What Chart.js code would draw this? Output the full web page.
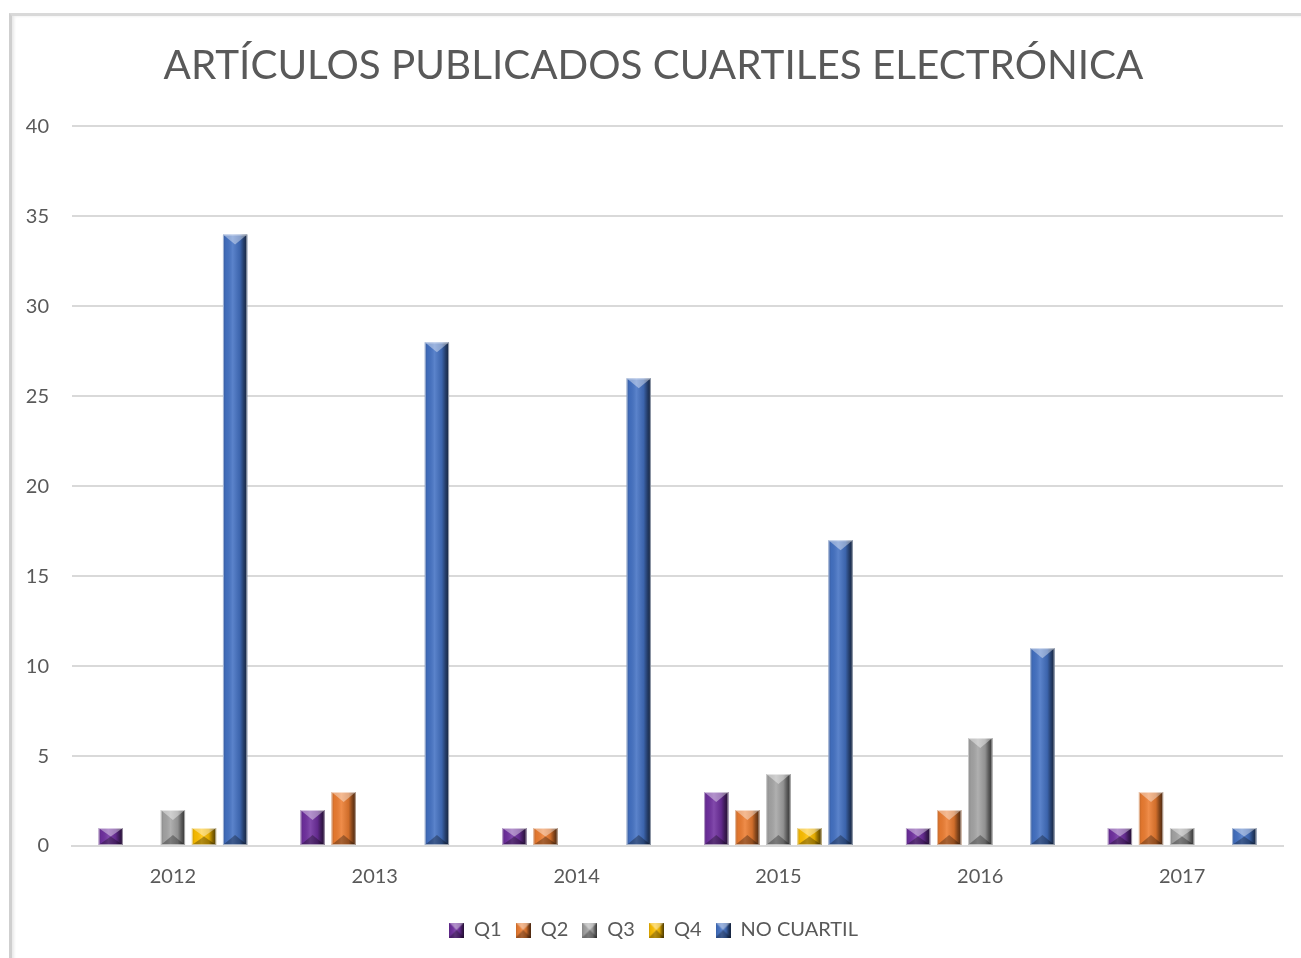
<!DOCTYPE html>
<html>
<head>
<meta charset="utf-8">
<script src="https://cdn.jsdelivr.net/npm/chart.js@4.4.1/dist/chart.umd.min.js"></script>
<style>
  body { margin: 0; background: #fff; }
  #marco {
    position: absolute; left: 9px; top: 13px; width: 1291px; height: 950px;
    border-top: 3px solid #d9d9d9; border-left: 3px solid #cfcfcf;
    border-right: 1px solid #e6e6e6;
    box-shadow: inset 2px 0 3px #e8e8e8;
  }
  #grafico { position: absolute; left: 0; top: 0; }
</style>
</head>
<body>
<div id="marco"></div>
<canvas id="grafico" width="1301" height="958"></canvas>
<script>
// Datos
const anios = ['2012', '2013', '2014', '2015', '2016', '2017'];
const q1 = [1, 2, 1, 3, 1, 1];
const q2 = [0, 3, 1, 2, 2, 3];
const q3 = [2, 0, 0, 4, 6, 1];
const q4 = [1, 0, 0, 1, 0, 0];
const noCuartil = [34, 28, 26, 17, 11, 1];
const ticksY = [0, 5, 10, 15, 20, 25, 30, 35, 40];
const colores = ['#7030A0', '#ED7D31', '#A5A5A5', '#FFC000', '#4472C4'];

const fuente = "Lato, 'Open Sans', sans-serif";
const gris = '#595959';

//Dibuja las caras del bisel en un rectangulo
const pintarBisel = (ctx, l, t, width, b, bv) => {
  const r = l + width, x = l + width / 2;
  const g = ctx.createLinearGradient(l, 0, r, 0);
  g.addColorStop(0, 'rgba(0,0,0,0.2)');
  g.addColorStop(0.12, 'rgba(0,0,0,0.05)');
  g.addColorStop(0.4, 'rgba(255,255,255,0.12)');
  g.addColorStop(0.7, 'rgba(0,0,0,0.12)');
  g.addColorStop(0.85, 'rgba(0,0,0,0.45)');
  g.addColorStop(1, 'rgba(0,0,0,0.7)');
  ctx.fillStyle = g;
  ctx.fillRect(l, t, width, b - t);
  //cara superior
  ctx.fillStyle = 'rgba(255,255,255,0.4)';
  ctx.beginPath(); ctx.moveTo(l, t); ctx.lineTo(r, t); ctx.lineTo(x, t + bv); ctx.closePath(); ctx.fill();
  //cara inferior
  ctx.fillStyle = 'rgba(0,0,0,0.3)';
  ctx.beginPath(); ctx.moveTo(l, b); ctx.lineTo(r, b); ctx.lineTo(x, b - bv); ctx.closePath(); ctx.fill();
};

//Efecto bisel de Excel sobre cada barra
const bisel = {
  id: 'bisel',
  afterDatasetsDraw(chart) {
    const ctx = chart.ctx;
    chart.data.datasets.forEach((ds, i) => {
      const meta = chart.getDatasetMeta(i);
      if (meta.hidden) return;
      meta.data.forEach((bar, j) => {
        if (!ds.data[j]) return;
        const { x, y, base, width } = bar.getProps(['x', 'y', 'base', 'width']);
        const l = x - width / 2;
        ctx.save();
        pintarBisel(ctx, l, y, width, base, Math.min(10, (base - y) / 2));
        //borde claro
        ctx.strokeStyle = 'rgba(255,255,255,0.55)';
        ctx.lineWidth = 1;
        ctx.strokeRect(l + 0.5, y + 0.5, width - 1, base - y - 1);
        ctx.restore();
      });
    });
  }
};

//Iconos de leyenda con bisel
const iconos = colores.map(c => {
  const cv = document.createElement('canvas');
  cv.width = 15; cv.height = 15;
  const cx = cv.getContext('2d');
  cx.fillStyle = c;
  cx.fillRect(0, 0, 15, 15);
  pintarBisel(cx, 0, 0, 15, 15, 7.5);
  return cv;
});

const serie = (label, data, i) => ({
  label, data, backgroundColor: colores[i], borderWidth: 0,
  barPercentage: 0.78, categoryPercentage: 0.77
});

new Chart(document.getElementById('grafico'), {
  type: 'bar',
  data: {
    labels: anios,
    datasets: [
      serie('Q1', q1, 0),
      serie('Q2', q2, 1),
      serie('Q3', q3, 2),
      serie('Q4', q4, 3),
      serie('NO CUARTIL', noCuartil, 4)
    ]
  },
  options: {
    responsive: false,
    animation: false,
    layout: { padding: { top: 16, right: 18, bottom: 8, left: 24 } },
    plugins: {
      title: {
        display: true,
        text: 'ARTÍCULOS PUBLICADOS CUARTILES ELECTRÓNICA',
        color: gris,
        font: { family: fuente, size: 40.4, weight: 'normal' },
        padding: { top: 26, bottom: 36 }
      },
      legend: {
        position: 'bottom',
        labels: {
          color: gris,
          font: { family: fuente, size: 20 },
          boxWidth: 15, boxHeight: 15, padding: 14,
          usePointStyle: true,
          generateLabels: chart => Chart.defaults.plugins.legend.labels.generateLabels(chart)
            .map((item, i) => ({ ...item, pointStyle: iconos[i] }))
        }
      },
      tooltip: { enabled: false }
    },
    scales: {
      x: {
        afterFit: s => { s.height = 60; },
        grid: { display: false },
        border: { color: '#d9d9d9', width: 2 },
        ticks: { color: gris, font: { family: fuente, size: 20 }, padding: 11 }
      },
      y: {
        min: 0, max: 40,
        afterBuildTicks: s => { s.ticks = ticksY.map(v => ({ value: v })); },
        afterFit: s => { s.width = 48; },
        grid: { color: '#d9d9d9', lineWidth: 2, drawTicks: false },
        border: { display: false },
        ticks: { color: gris, font: { family: fuente, size: 20 }, padding: 23 }
      }
    }
  },
  plugins: [bisel]
});
</script>
</body>
</html>
